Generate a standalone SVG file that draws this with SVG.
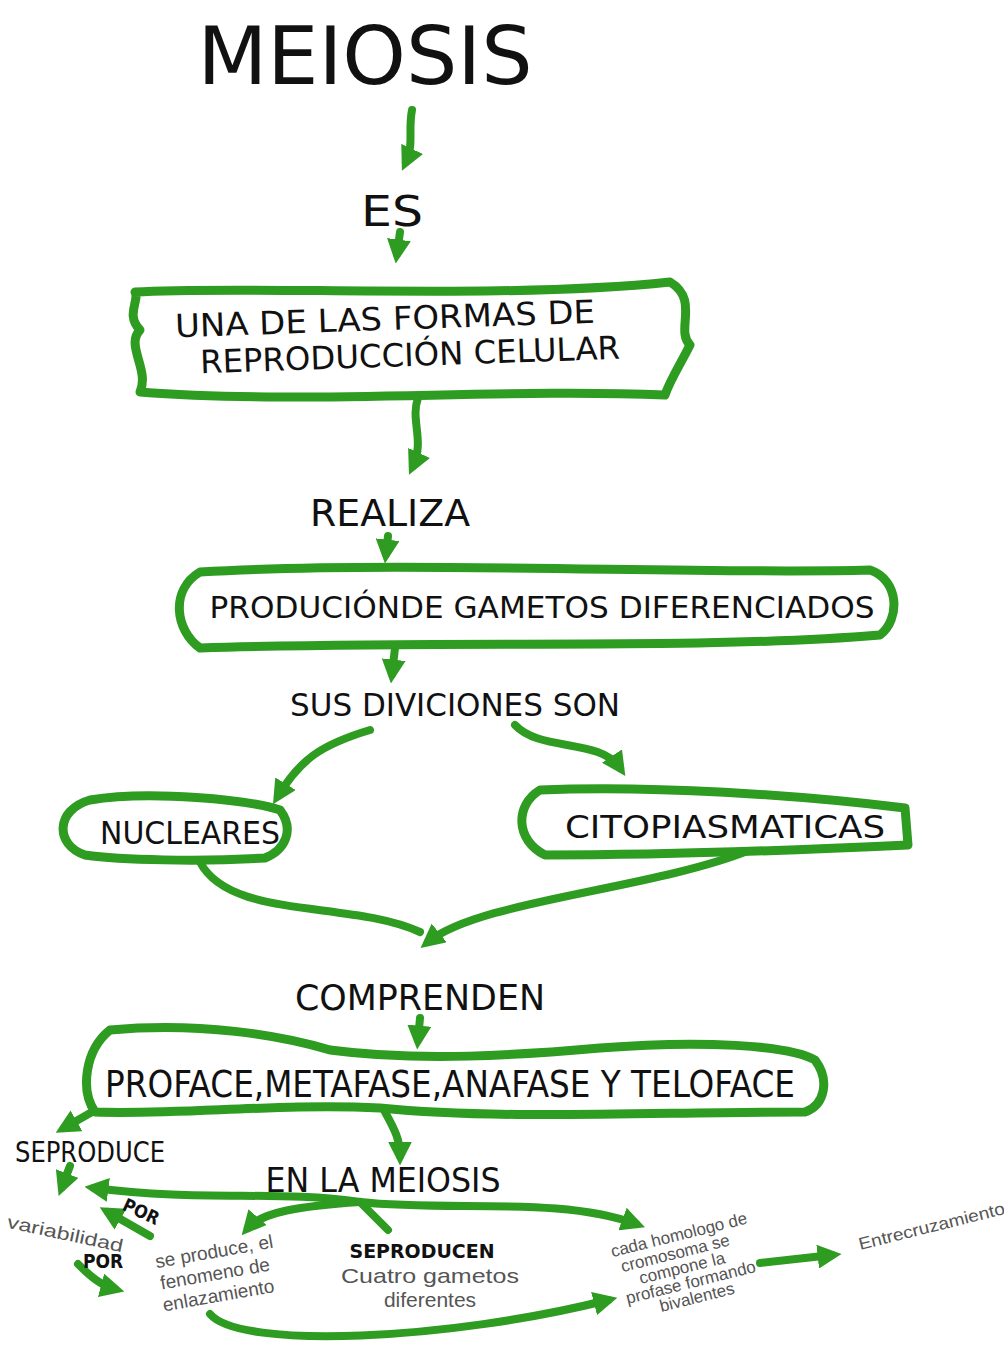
<svg xmlns="http://www.w3.org/2000/svg" width="1004" height="1352" viewBox="0 0 1004 1352">
<defs>
<marker id="ah" viewBox="0 0 10 10" refX="6" refY="5" markerWidth="24" markerHeight="24" markerUnits="userSpaceOnUse" orient="auto">
<path d="M0 0 L10 5 L0 10 Z" fill="#2e9b21"/>
</marker>
</defs>
<style>
.box{fill:#fff;stroke:#2e9b21;stroke-width:9;stroke-linejoin:round}
.con{fill:none;stroke:#2e9b21;stroke-width:8;stroke-linecap:round}
.cap{font-family:"DejaVu Sans Condensed","DejaVu Sans",sans-serif;fill:#111;text-anchor:middle}
.hw{font-family:"Liberation Sans",sans-serif;fill:#555;text-anchor:middle}
.bd{font-family:"DejaVu Sans Condensed","DejaVu Sans",sans-serif;fill:#111;font-weight:bold;text-anchor:middle}
</style>
<rect width="1004" height="1352" fill="#fff"/>
<g id="connectors">
<path class="con" d="M412 110 C408 130 414 145 406 162" marker-end="url(#ah)"/>
<path class="con" d="M400 232 L397 254" marker-end="url(#ah)"/>
<path class="con" d="M418 398 C410 420 425 440 413 466" marker-end="url(#ah)"/>
<path class="con" d="M388 536 L386 554" marker-end="url(#ah)"/>
<path class="con" d="M395 648 L392 674" marker-end="url(#ah)"/>
<path class="con" d="M370 730 C320 745 300 760 278 796" marker-end="url(#ah)"/>
<path class="con" d="M515 725 C540 752 600 738 620 768" marker-end="url(#ah)"/>
<path class="con" d="M200 862 C230 920 350 900 420 932"/>
<path class="con" d="M750 850 C650 890 480 900 428 942" marker-end="url(#ah)"/>
<path class="con" d="M420 1018 L418 1040" marker-end="url(#ah)"/>
<path class="con" d="M92 1112 L64 1128" marker-end="url(#ah)"/>
<path class="con" d="M385 1112 C395 1130 400 1140 400 1156" marker-end="url(#ah)"/>
<path class="con" d="M70 1166 L62 1187" marker-end="url(#ah)"/>
<path class="con" d="M360 1202 C280 1190 200 1202 94 1188" marker-end="url(#ah)"/>
<path class="con" d="M150 1236 L108 1212" marker-end="url(#ah)"/>
<path class="con" d="M78 1264 C90 1276 100 1285 115 1289" marker-end="url(#ah)"/>
<path class="con" d="M360 1202 C300 1206 262 1212 248 1228" marker-end="url(#ah)"/>
<path class="con" d="M360 1202 L388 1230"/>
<path class="con" d="M360 1202 C450 1212 560 1196 636 1224" marker-end="url(#ah)"/>
<path class="con" d="M210 1314 C240 1350 450 1340 608 1300" marker-end="url(#ah)"/>
<path class="con" d="M760 1263 L832 1255" marker-end="url(#ah)"/>
</g>
<g id="meiosis"><text class="cap" x="365" y="84" font-size="80" textLength="335" lengthAdjust="spacingAndGlyphs">MEIOSIS</text></g>
<g id="es"><text class="cap" x="392" y="226" font-size="42" textLength="62" lengthAdjust="spacingAndGlyphs">ES</text></g>
<g id="box-forma">
<path class="box" d="M135 292 C250 285 500 300 670 282 C700 300 675 330 690 345 C680 365 670 380 665 395 C500 388 300 405 140 392 C150 370 125 345 140 330 C125 315 140 300 135 292 Z"/>
<text class="cap" x="385" y="330" font-size="32" textLength="420" lengthAdjust="spacingAndGlyphs" transform="rotate(-2 385 320)">UNA DE LAS FORMAS DE</text>
<text class="cap" x="410" y="366" font-size="32" textLength="420" lengthAdjust="spacingAndGlyphs" transform="rotate(-2 410 356)">REPRODUCCIÓN CELULAR</text>
</g>
<g id="realiza"><text class="cap" x="390" y="526" font-size="38" textLength="160" lengthAdjust="spacingAndGlyphs">REALIZA</text></g>
<g id="box-produccion">
<path class="box" d="M200 572 C400 560 700 575 870 570 C900 580 900 620 880 635 C700 650 450 640 200 648 C175 630 170 590 200 572 Z"/>
<text class="cap" x="542" y="618" font-size="31" textLength="665" lengthAdjust="spacingAndGlyphs">PRODUCIÓNDE GAMETOS DIFERENCIADOS</text>
</g>
<g id="divisiones"><text class="cap" x="455" y="716" font-size="32" textLength="330" lengthAdjust="spacingAndGlyphs">SUS DIVICIONES SON</text></g>
<g id="box-nucleares">
<path class="box" d="M90 800 C150 790 250 800 280 810 C295 830 285 850 265 858 C200 862 120 860 85 855 C55 845 55 810 90 800 Z"/>
<text class="cap" x="190" y="844" font-size="32" textLength="180" lengthAdjust="spacingAndGlyphs">NUCLEARES</text>
</g>
<g id="box-citoplasmaticas">
<path class="box" d="M540 790 C650 785 800 795 905 808 L908 845 C800 850 650 855 545 855 C515 840 515 805 540 790 Z"/>
<text class="cap" x="725" y="838" font-size="32" textLength="320" lengthAdjust="spacingAndGlyphs">CITOPIASMATICAS</text>
</g>
<g id="comprenden"><text class="cap" x="420" y="1010" font-size="36" textLength="250" lengthAdjust="spacingAndGlyphs">COMPRENDEN</text></g>
<g id="box-fases">
<path class="box" d="M110 1030 C200 1022 280 1035 330 1050 C420 1062 520 1055 600 1048 C700 1040 790 1045 815 1060 C830 1080 825 1105 805 1112 C650 1112 500 1120 380 1108 C280 1103 180 1115 95 1112 C80 1090 85 1050 110 1030 Z"/>
<text class="cap" x="450" y="1097" font-size="38" textLength="690" lengthAdjust="spacingAndGlyphs">PROFACE,METAFASE,ANAFASE Y TELOFACE</text>
</g>
<g id="seproduce"><text class="cap" x="90" y="1162" font-size="28" textLength="150" lengthAdjust="spacingAndGlyphs">SEPRODUCE</text></g>
<g id="en-la-meiosis"><text class="cap" x="383" y="1192" font-size="34" textLength="235" lengthAdjust="spacingAndGlyphs">EN LA MEIOSIS</text></g>
<g id="por1"><text class="bd" x="142" y="1218" font-size="18" transform="rotate(25 142 1210)">POR</text></g>
<g id="variabilidad"><text class="hw" x="65" y="1240" font-size="18" textLength="118" lengthAdjust="spacingAndGlyphs" transform="rotate(12 65 1235)">variabilidad</text></g>
<g id="por2"><text class="bd" x="103" y="1268" font-size="19">POR</text></g>
<g id="enlazamiento">
<text class="hw" font-size="19" transform="rotate(-10 215 1270)">
<tspan x="220" y="1258">se produce, el</tspan>
<tspan x="217" y="1280">fenomeno de</tspan>
<tspan x="214" y="1302">enlazamiento</tspan>
</text>
</g>
<g id="gametos">
<text class="bd" x="422" y="1258" font-size="19" textLength="145" lengthAdjust="spacingAndGlyphs">SEPRODUCEN</text>
<text class="hw" x="430" y="1283" font-size="21" textLength="178" lengthAdjust="spacingAndGlyphs">Cuatro gametos</text>
<text class="hw" x="430" y="1307" font-size="21">diferentes</text>
</g>
<g id="homologo">
<text class="hw" font-size="17" transform="rotate(-14 685 1270)">
<tspan x="690" y="1240">cada homologo de</tspan>
<tspan x="682" y="1257">cromosoma se</tspan>
<tspan x="685" y="1273">compone la</tspan>
<tspan x="690" y="1289">profase formando</tspan>
<tspan x="690" y="1305">bivalentes</tspan>
</text>
</g>
<g id="entrecruzamiento"><text class="hw" x="932" y="1232" font-size="17" textLength="150" lengthAdjust="spacingAndGlyphs" transform="rotate(-14 932 1228)">Entrecruzamiento</text></g>
</svg>
